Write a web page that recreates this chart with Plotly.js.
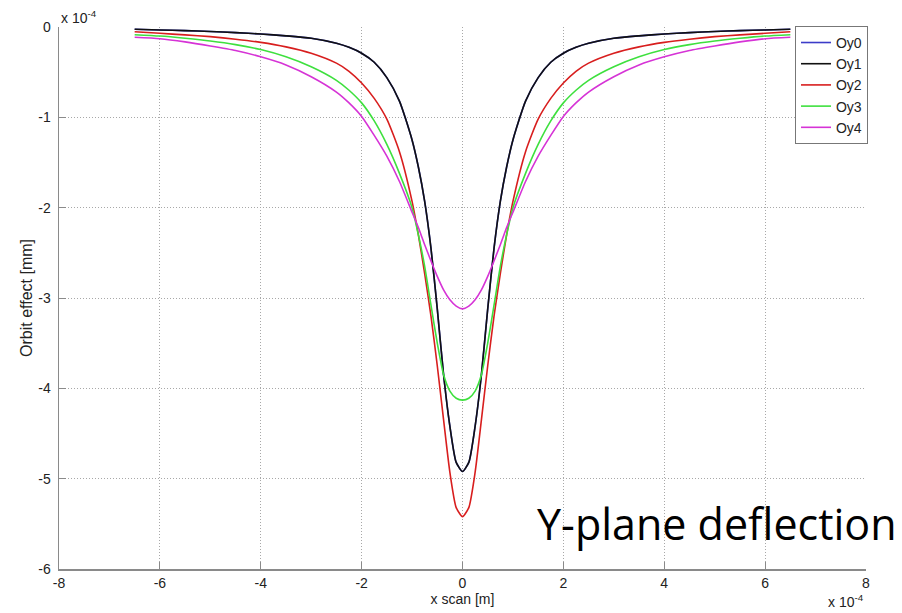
<!DOCTYPE html>
<html>
<head>
<meta charset="utf-8">
<script src="https://cdn.plot.ly/plotly-3.0.1.min.js"></script>
<style>html,body{margin:0;padding:0;background:#fff;}#chart{width:902px;height:613px;}</style>
</head>
<body>
<div id="chart"></div>
<script>
// x scan positions (units of 1e-4 m)
var xScan = [-6.5,-6,-5.5,-5,-4.5,-4,-3.5,-3,-2.5,-2.25,-2,-1.75,-1.5,-1.25,-1,-0.875,-0.75,-0.625,-0.5,-0.375,-0.25,-0.125,0,
             0.125,0.25,0.375,0.5,0.625,0.75,0.875,1,1.25,1.5,1.75,2,2.25,2.5,3,3.5,4,4.5,5,5.5,6,6.5];
// orbit effect (units of 1e-4 mm)
var oy0 = [-0.025,-0.033,-0.04,-0.05,-0.062,-0.077,-0.098,-0.125,-0.18,-0.225,-0.29,-0.39,-0.56,-0.82,-1.25,-1.55,-1.93,-2.45,-3.12,-3.85,-4.42,-4.82,-4.92,
           -4.82,-4.42,-3.85,-3.12,-2.45,-1.93,-1.55,-1.25,-0.82,-0.56,-0.39,-0.29,-0.225,-0.18,-0.125,-0.098,-0.077,-0.062,-0.05,-0.04,-0.033,-0.025];
var oy1 = [-0.025,-0.033,-0.04,-0.05,-0.062,-0.077,-0.098,-0.125,-0.18,-0.225,-0.29,-0.39,-0.56,-0.82,-1.25,-1.55,-1.93,-2.45,-3.12,-3.85,-4.42,-4.82,-4.92,
           -4.82,-4.42,-3.85,-3.12,-2.45,-1.93,-1.55,-1.25,-0.82,-0.56,-0.39,-0.29,-0.225,-0.18,-0.125,-0.098,-0.077,-0.062,-0.05,-0.04,-0.033,-0.025];
var oy2 = [-0.052,-0.07,-0.087,-0.107,-0.135,-0.17,-0.22,-0.29,-0.40,-0.49,-0.62,-0.79,-1.02,-1.38,-1.93,-2.3,-2.73,-3.2,-3.75,-4.35,-4.93,-5.32,-5.42,
           -5.32,-4.93,-4.35,-3.75,-3.2,-2.73,-2.3,-1.93,-1.38,-1.02,-0.79,-0.62,-0.49,-0.40,-0.29,-0.22,-0.17,-0.135,-0.107,-0.087,-0.07,-0.052];
var oy3 = [-0.085,-0.10,-0.125,-0.155,-0.195,-0.25,-0.33,-0.44,-0.59,-0.70,-0.84,-1.04,-1.3,-1.62,-2.0,-2.3,-2.65,-3.08,-3.5,-3.85,-4.03,-4.11,-4.13,
           -4.11,-4.03,-3.85,-3.5,-3.08,-2.65,-2.3,-2.0,-1.62,-1.3,-1.04,-0.84,-0.70,-0.59,-0.44,-0.33,-0.25,-0.195,-0.155,-0.125,-0.10,-0.085];
var oy4 = [-0.114,-0.13,-0.165,-0.21,-0.26,-0.33,-0.42,-0.55,-0.72,-0.84,-0.99,-1.2,-1.43,-1.71,-2.05,-2.22,-2.41,-2.59,-2.76,-2.91,-3.02,-3.09,-3.12,
           -3.09,-3.02,-2.91,-2.76,-2.59,-2.41,-2.22,-2.05,-1.71,-1.43,-1.2,-0.99,-0.84,-0.72,-0.55,-0.42,-0.33,-0.26,-0.21,-0.165,-0.13,-0.114];
var seriesNames = ["Oy0","Oy1","Oy2","Oy3","Oy4"];
var seriesData = [oy0, oy1, oy2, oy3, oy4];
var seriesColors = ["#3c3cc8","#111111","#d81e1e","#3ee03e","#d633d6"];
var xTicks = [-8,-6,-4,-2,0,2,4,6,8];
var yTicks = [-6,-5,-4,-3,-2,-1,0];

var traces = seriesData.map(function(d, i){
  return {x: xScan, y: d, type: "scatter", mode: "lines", name: seriesNames[i],
          line: {color: seriesColors[i], width: 1.6, shape: "spline", smoothing: 0.6}};
});

var axisCommon = {
  showline: true, linecolor: "#8a8a8a", linewidth: 1.5, mirror: false,
  ticks: "inside", ticklen: 7, tickcolor: "#8a8a8a", tickwidth: 1,
  showgrid: true, gridcolor: "#a8a8a8", griddash: "1px,2px", gridwidth: 1,
  zeroline: false, tickfont: {family: "Liberation Sans, Arial", size: 14, color: "#222"}
};

var layout = {
  width: 902, height: 613,
  margin: {l: 59, r: 36, t: 27, b: 44, pad: 0},
  paper_bgcolor: "#fff", plot_bgcolor: "#fff",
  showlegend: true,
  legend: {x: 0.912, xanchor: "left", y: 1.002, yanchor: "top",
           bgcolor: "#fff", bordercolor: "#777", borderwidth: 1,
           font: {family: "Liberation Sans, Arial", size: 14, color: "#222"},
           itemwidth: 30, tracegroupgap: 0},
  xaxis: Object.assign({}, axisCommon, {range: [-8, 8], tickvals: xTicks,
           ticktext: xTicks.map(String), ticklabelstandoff: 1,
           title: {text: "x scan [m]", standoff: 3,
                   font: {family: "Liberation Sans, Arial", size: 14, color: "#222"}}}),
  yaxis: Object.assign({}, axisCommon, {range: [-6, 0], tickvals: yTicks,
           ticktext: yTicks.map(String), ticklabelstandoff: 4,
           title: {text: "Orbit effect [mm]", standoff: 1,
                   font: {family: "Liberation Sans, Arial", size: 16, color: "#222"}}}),
  annotations: [
    {xref: "paper", yref: "paper", x: 0, y: 1, xanchor: "left", yanchor: "bottom",
     text: "x 10<sup>-4</sup>", showarrow: false, yshift: -1,
     font: {family: "Liberation Sans, Arial", size: 14, color: "#222"}},
    {xref: "paper", yref: "paper", x: 1, y: 0, xanchor: "right", yanchor: "top",
     text: "x 10<sup>-4</sup>", showarrow: false, yshift: -21,
     font: {family: "Liberation Sans, Arial", size: 14, color: "#222"}},
    {xref: "paper", yref: "paper", x: 1.041, y: 0.025, xanchor: "right", yanchor: "bottom",
     text: "Y-plane deflection", showarrow: false,
     font: {family: "Open Sans", size: 43, color: "#000"}}
  ]
};

Plotly.newPlot("chart", traces, layout, {displayModeBar: false, staticPlot: true});
</script>
</body>
</html>
